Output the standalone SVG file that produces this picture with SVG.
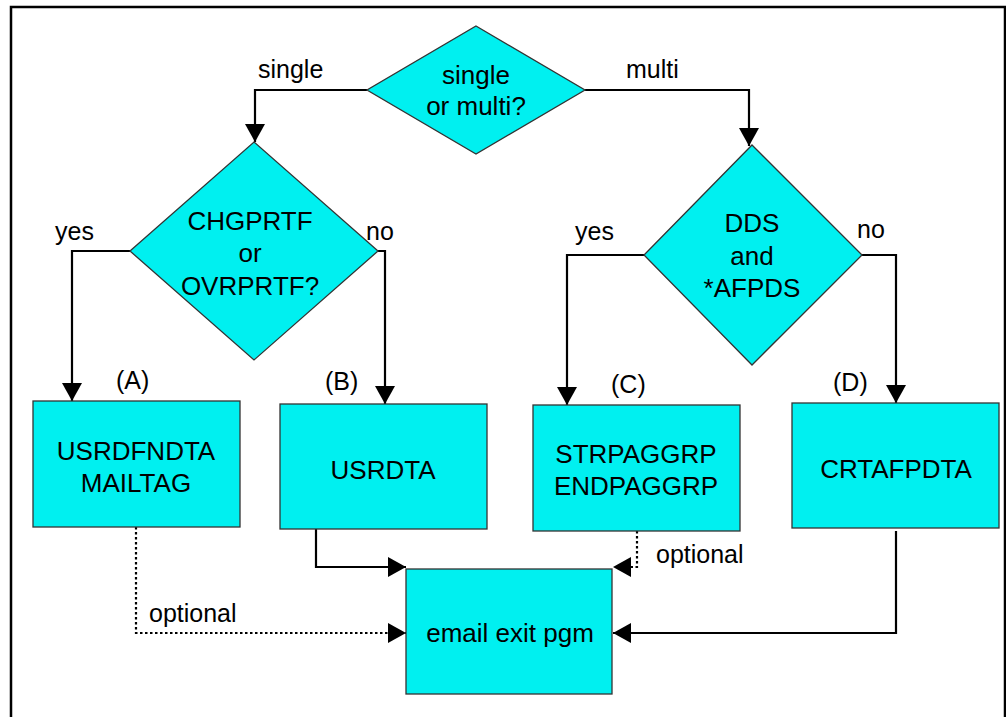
<svg xmlns="http://www.w3.org/2000/svg" width="1006" height="717" viewBox="0 0 1006 717">
<defs>
<style>
.n{fill:#00F0F0;stroke:#333;stroke-width:1.3}
.t{font-family:"Liberation Sans",Arial,sans-serif;font-size:26px;fill:#000;text-anchor:middle}
.l{font-family:"Liberation Sans",Arial,sans-serif;font-size:25px;fill:#000}
.c{fill:none;stroke:#000;stroke-width:2.2}
.d{fill:none;stroke:#000;stroke-width:2.2;stroke-dasharray:2.5,2.5}
</style>
<marker id="a" markerWidth="18" markerHeight="20" refX="18" refY="10" orient="auto" markerUnits="userSpaceOnUse">
<path d="M0,0 L18,10 L0,20 Z" fill="#000"/>
</marker>
</defs>
<rect x="0" y="0" width="1006" height="717" fill="#fff"/>
<path d="M11,717 V7 H1005 V717" fill="none" stroke="#000" stroke-width="2.5"/>
<g id="connectors">
<path class="c" d="M367,90 H255 V142" marker-end="url(#a)"/>
<path class="c" d="M585,90 H749 V146" marker-end="url(#a)"/>
<path class="c" d="M130,251 H72 V401" marker-end="url(#a)"/>
<path class="c" d="M378,251 H385 V404" marker-end="url(#a)"/>
<path class="c" d="M644,255 H567 V405" marker-end="url(#a)"/>
<path class="c" d="M862,255 H896 V403" marker-end="url(#a)"/>
<path class="c" d="M316,529 V567 H406" marker-end="url(#a)"/>
<path class="d" d="M136,527 V633 H406" marker-end="url(#a)"/>
<path class="d" d="M637,531 V567 H613" marker-end="url(#a)"/>
<path class="c" d="M896,531 V633 H613" marker-end="url(#a)"/>
<text class="l" x="258" y="78">single</text>
<text class="l" x="626" y="78">multi</text>
<text class="l" x="55" y="240">yes</text>
<text class="l" x="366" y="240">no</text>
<text class="l" x="575" y="240">yes</text>
<text class="l" x="857" y="238">no</text>
<text class="l" x="149" y="622">optional</text>
<text class="l" x="656" y="563">optional</text>
</g>
<g id="n1">
<polygon class="n" points="476,26 585,90 476,154 367,90"/>
<text class="t" x="476" y="84">single</text>
<text class="t" x="476" y="115">or multi?</text>
</g>
<g id="n2">
<polygon class="n" points="254,142 378,251 254,360 130,251"/>
<text class="t" x="250" y="230">CHGPRTF</text>
<text class="t" x="250" y="262">or</text>
<text class="t" x="250" y="295">OVRPRTF?</text>
</g>
<g id="n3">
<polygon class="n" points="752,145 862,255 752,365 644,255"/>
<text class="t" x="752" y="232">DDS</text>
<text class="t" x="752" y="265">and</text>
<text class="t" x="752" y="297">*AFPDS</text>
</g>
<g id="nA">
<text class="l" x="116" y="389">(A)</text>
<rect class="n" x="33" y="401" width="207" height="126"/>
<text class="t" x="136" y="460">USRDFNDTA</text>
<text class="t" x="136" y="492">MAILTAG</text>
</g>
<g id="nB">
<text class="l" x="325" y="390">(B)</text>
<rect class="n" x="280" y="404" width="207" height="125"/>
<text class="t" x="383" y="479">USRDTA</text>
</g>
<g id="nC">
<text class="l" x="611" y="393">(C)</text>
<rect class="n" x="533" y="405" width="207" height="126"/>
<text class="t" x="636" y="463">STRPAGGRP</text>
<text class="t" x="636" y="495">ENDPAGGRP</text>
</g>
<g id="nD">
<text class="l" x="833" y="391">(D)</text>
<rect class="n" x="792" y="403" width="207" height="125"/>
<text class="t" x="896" y="478">CRTAFPDTA</text>
</g>
<g id="nE">
<rect class="n" x="406" y="569" width="206" height="125"/>
<text class="t" x="510" y="642">email exit pgm</text>
</g>
</svg>
